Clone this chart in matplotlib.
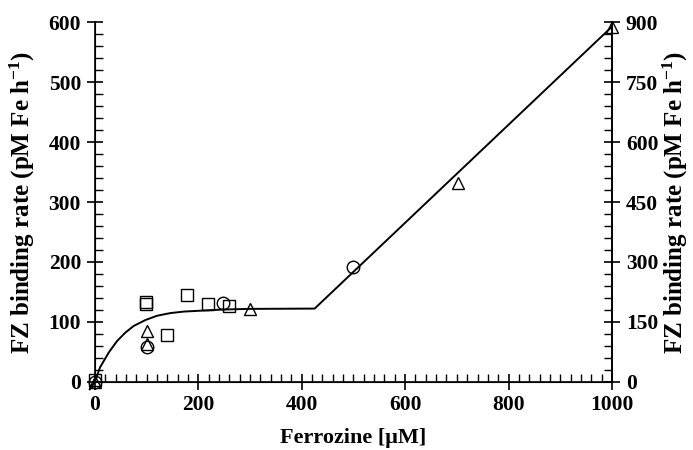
import matplotlib
matplotlib.use("Agg")
import matplotlib.pyplot as plt
from matplotlib.ticker import MultipleLocator

plt.rcParams['font.family'] = ['Liberation Serif', 'DejaVu Serif']
plt.rcParams['font.weight'] = 'bold'
plt.rcParams['mathtext.fontset'] = 'custom'
plt.rcParams['mathtext.rm'] = 'Liberation Serif:bold'
plt.rcParams['mathtext.it'] = 'Liberation Serif:bold'
plt.rcParams['mathtext.bf'] = 'Liberation Serif:bold'

# Data (left-axis units)
circle_x = [0, 100, 248, 500]
circle_y = [0, 57, 131, 191]
square_x = [0, 99, 99, 139, 179, 219, 259]
square_y = [3, 133, 130, 78, 145, 130, 127]
triangle_x = [0, 100, 100, 300, 703, 1000]
triangle_y = [0, 85, 62, 121, 331, 592]

# Fitted curve
curve_x = [-10, 0, 10, 27, 43, 59, 75, 98, 120, 146, 172, 205, 250, 300, 425, 1000]
curve_y = [-13, 0, 24, 49, 68, 82, 93, 103, 110, 114.5, 117, 118.5, 120.5, 121.5, 122, 593]

ylabel_text = r'FZ binding rate (pM Fe h$^{-1}$)'

fig = plt.figure(figsize=(6.93, 4.5), dpi=100)
ax = fig.add_axes([0.137, 0.152, 0.746, 0.798])

ax.plot(curve_x, curve_y, color='black', lw=1.4, clip_on=False, zorder=2)
ms = 9
ax.plot(circle_x, circle_y, 'o', mfc='none', mec='black', mew=1.0, ms=ms, clip_on=False, zorder=3)
ax.plot(square_x, square_y, 's', mfc='none', mec='black', mew=1.0, ms=ms, clip_on=False, zorder=3)
ax.plot(triangle_x, triangle_y, '^', mfc='none', mec='black', mew=1.0, ms=ms, clip_on=False, zorder=3)

ax.set_xlim(0, 1000)
ax.set_ylim(0, 600)
ax.xaxis.set_major_locator(MultipleLocator(200))
ax.xaxis.set_minor_locator(MultipleLocator(20))
ax.yaxis.set_major_locator(MultipleLocator(100))
ax.yaxis.set_minor_locator(MultipleLocator(20))
ax.spines['top'].set_visible(False)
for s in ['left', 'bottom', 'right']:
    ax.spines[s].set_linewidth(1.2)

ax.tick_params(which='major', direction='inout', length=12, width=1.2, labelsize=15.5, pad=4)
ax.tick_params(which='minor', direction='in', length=6, width=1.0)

ax.set_xlabel('Ferrozine [\u03bcM]', fontsize=16, fontweight='bold')
ax.xaxis.set_label_coords(0.5, -0.13)
ax.set_ylabel(ylabel_text, fontsize=18, fontweight='bold')
ax.yaxis.set_label_coords(-0.113, 0.5)

ax2 = ax.twinx()
ax2.set_ylim(0, 900)
ax2.yaxis.set_major_locator(MultipleLocator(150))
ax2.yaxis.set_minor_locator(MultipleLocator(30))
ax2.spines['top'].set_visible(False)
ax2.spines['right'].set_linewidth(1.2)
ax2.tick_params(which='major', direction='inout', length=12, width=1.2, labelsize=15.5, pad=4)
ax2.tick_params(which='minor', direction='in', length=6, width=1.0)
ax2.set_ylabel(ylabel_text, fontsize=18, fontweight='bold')
ax2.yaxis.set_label_coords(1.095, 0.5)

for a in (ax, ax2):
    for lab in a.get_xticklabels() + a.get_yticklabels():
        lab.set_fontweight('bold')

fig.savefig('out.png', dpi=100)
